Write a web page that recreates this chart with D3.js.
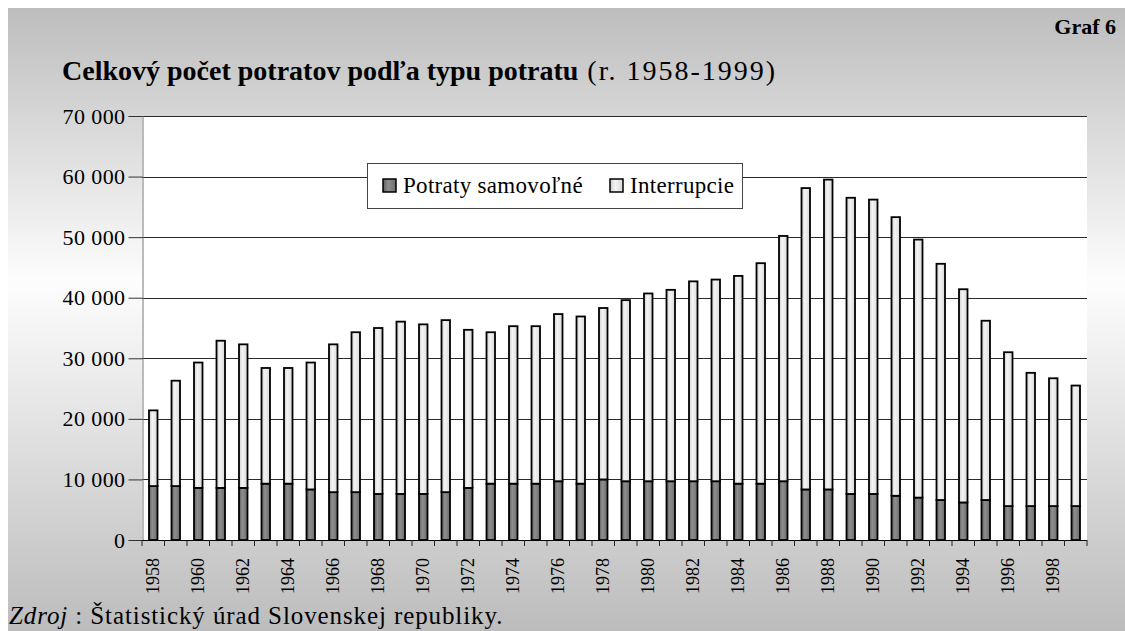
<!DOCTYPE html>
<html>
<head>
<meta charset="utf-8">
<script src="https://cdn.jsdelivr.net/npm/d3@7"></script>
<style>
  html, body { margin: 0; padding: 0; background: #ffffff; }
  svg { display: block; }
  svg text { font-family: 'Liberation Serif', 'Times New Roman', serif; }
</style>
</head>
<body>
<div class="chart"></div>
<script>
// categories
const years = [1958, 1959, 1960, 1961, 1962, 1963, 1964, 1965, 1966, 1967,
  1968, 1969, 1970, 1971, 1972, 1973, 1974, 1975, 1976, 1977,
  1978, 1979, 1980, 1981, 1982, 1983, 1984, 1985, 1986, 1987,
  1988, 1989, 1990, 1991, 1992, 1993, 1994, 1995, 1996, 1997,
  1998, 1999];

// Potraty samovoľné
const samovolne = [8900, 8900, 8600, 8600, 8600, 9300, 9300, 8350, 7900, 7900,
  7600, 7600, 7600, 7900, 8600, 9300, 9300, 9300, 9700, 9300,
  10000, 9700, 9700, 9700, 9700, 9700, 9300, 9300, 9700, 8350,
  8350, 7600, 7600, 7300, 7000, 6600, 6200, 6600, 5600, 5600,
  5600, 5600];

// Interrupcie
const interrupcie = [12500, 17400, 20700, 24300, 23700, 19100, 19100, 20950, 24400, 26400,
  27400, 28450, 28000, 28400, 26100, 25000, 26000, 26000, 27600, 27600,
  28300, 29900, 31000, 31600, 33000, 33300, 34300, 36400, 40500, 49750,
  51150, 48900, 48600, 46000, 42600, 39000, 35200, 29600, 25400, 22000,
  21100, 19900];

const yTicks = [0, 10000, 20000, 30000, 40000, 50000, 60000, 70000];
const yearLabels = [1958, 1960, 1962, 1964, 1966, 1968, 1970, 1972, 1974, 1976,
  1978, 1980, 1982, 1984, 1986, 1988, 1990, 1992, 1994, 1996, 1998];
const seriesNames = ['Potraty samovoľné', 'Interrupcie'];

const WIDTH = 1125, HEIGHT = 631;
const MARGINS = {top: 116, right: 38, bottom: 91, left: 142};
const FONT = "'Liberation Serif', 'Times New Roman', serif";

const svg = d3.select('.chart')
  .append('svg')
  .attr('width', WIDTH)
  .attr('height', HEIGHT);

const defs = svg.append('defs');

// background gradient, dark on top and bottom, light in the middle
let bg = defs.append('linearGradient')
  .attr('id', 'bg')
  .attr('x1', 0).attr('y1', 0).attr('x2', 0).attr('y2', 1);
bg.append('stop').attr('offset', '0%').attr('stop-color', '#bdbdbd');
bg.append('stop').attr('offset', '44%').attr('stop-color', '#fdfdfd');
bg.append('stop').attr('offset', '100%').attr('stop-color', '#bcbcbc');

function barGradient(id, c1, c2, c3) {
  let g = defs.append('linearGradient')
    .attr('id', id)
    .attr('x1', 0).attr('y1', 0).attr('x2', 1).attr('y2', 0);
  g.append('stop').attr('offset', '0%').attr('stop-color', c1);
  g.append('stop').attr('offset', '40%').attr('stop-color', c2);
  g.append('stop').attr('offset', '100%').attr('stop-color', c3);
}
barGradient('dark', '#5e5e5e', '#8e8e8e', '#6c6c6c');
barGradient('light', '#cdcdcd', '#f4f4f4', '#d9d9d9');
const fills = ['url(#dark)', 'url(#light)'];

svg.append('rect')
  .attr('x', 8)
  .attr('y', 8)
  .attr('width', WIDTH - 8)
  .attr('height', HEIGHT - 8)
  .attr('fill', 'url(#bg)');

/**
 * scales
 */
const xRange = d3.scaleBand()
  .domain(years)
  .range([MARGINS.left, WIDTH - MARGINS.right])
  .padding(0);
const yRange = d3.scaleLinear()
  .domain([0, 70000])
  .range([HEIGHT - MARGINS.bottom, MARGINS.top]);

const x0 = MARGINS.left, x1 = WIDTH - MARGINS.right;
const y0 = yRange(0);

// plot area
svg.append('rect')
  .attr('x', x0)
  .attr('y', yRange(70000))
  .attr('width', x1 - x0)
  .attr('height', y0 - yRange(70000))
  .attr('fill', '#ffffff');

// gridlines
svg.selectAll('.grid')
  .data(yTicks.filter(function (d) { return d > 0; }))
  .enter()
  .append('line')
  .attr('x1', x0)
  .attr('x2', x1)
  .attr('y1', function (d) { return Math.round(yRange(d)) + 0.5; })
  .attr('y2', function (d) { return Math.round(yRange(d)) + 0.5; })
  .attr('stroke', '#2a2a2a')
  .attr('stroke-width', 1);

/**
 * yAxis
 */
const fmt = d3.formatLocale({decimal: ',', thousands: ' ', grouping: [3], currency: ['', '']}).format(',d');
const yAxis = d3.axisLeft(yRange)
  .tickValues(yTicks)
  .tickFormat(fmt)
  .tickSize(14)
  .tickPadding(3);
const yAxisg = svg.append('g')
  .attr('transform', 'translate(' + (x0 + 0.5) + ',0)')
  .attr('font-family', FONT)
  .call(yAxis);
yAxisg.attr('font-family', FONT).attr('font-size', 22);
yAxisg.select('.domain').attr('stroke', '#777777');
yAxisg.selectAll('.tick line').attr('stroke', '#333333');
yAxisg.selectAll('.tick text')
  .style('font-family', FONT)
  .style('font-size', '22px')
  .style('letter-spacing', '0.4px')
  .attr('fill', '#000');

// stacked bars
const rows = years.map(function (y, i) {
  return {year: y, s: samovolne[i], n: interrupcie[i]};
});
const stacked = d3.stack().keys(['s', 'n'])(rows);
const bw = 8.5;

stacked.forEach(function (layer, k) {
  svg.append('g')
    .selectAll('rect')
    .data(layer)
    .enter()
    .append('rect')
    .attr('x', function (d) { return xRange(d.data.year) + xRange.bandwidth() / 2 - bw / 2; })
    .attr('y', function (d) { return yRange(d[1]); })
    .attr('width', bw)
    .attr('height', function (d) { return yRange(d[0]) - yRange(d[1]); })
    .attr('fill', fills[k])
    .attr('stroke', '#000')
    .attr('stroke-width', 1.8);
});

/**
 * xAxis - ticks on category boundaries
 */
const boundaries = years.map(function (y) { return xRange(y); }).concat([x1]);
svg.append('line')
  .attr('x1', x0)
  .attr('x2', x1)
  .attr('y1', y0 + 0.5)
  .attr('y2', y0 + 0.5)
  .attr('stroke', '#000')
  .attr('stroke-width', 1.2);
svg.selectAll('.xtick')
  .data(boundaries)
  .enter()
  .append('line')
  .attr('x1', function (d) { return d; })
  .attr('x2', function (d) { return d; })
  .attr('y1', y0)
  .attr('y2', y0 + 6)
  .attr('stroke', '#222')
  .attr('stroke-width', 1);
svg.selectAll('.xlabel')
  .data(yearLabels)
  .enter()
  .append('text')
  .text(function (d) { return d; })
  .attr('transform', function (d) {
    return 'translate(' + (xRange(d) + xRange.bandwidth() / 2 + 6) + ',' + (y0 + 18) + ') rotate(-90)';
  })
  .attr('text-anchor', 'end')
  .style('font-family', FONT)
  .style('font-size', '18px')
  .attr('fill', '#000');

/**
 * legend
 */
const legend = svg.append('g').attr('transform', 'translate(367,163)');
legend.append('rect')
  .attr('x', 0.5)
  .attr('y', 0.5)
  .attr('width', 375)
  .attr('height', 45)
  .attr('fill', '#ffffff')
  .attr('stroke', '#444')
  .attr('stroke-width', 1);
const legendX = [16, 243];
seriesNames.forEach(function (name, k) {
  legend.append('rect')
    .attr('x', legendX[k])
    .attr('y', 16)
    .attr('width', 13)
    .attr('height', 13)
    .attr('fill', fills[k])
    .attr('stroke', '#000')
    .attr('stroke-width', 1.5);
  legend.append('text')
    .text(name)
    .attr('x', legendX[k] + 20)
    .attr('y', 30)
    .style('font-family', FONT)
    .style('font-size', '23px')
    .style('letter-spacing', '0.3px')
    .attr('fill', '#000');
});

/**
 * titles
 */
const title = svg.append('text')
  .attr('x', 62)
  .attr('y', 80)
  .style('font-family', FONT)
  .style('font-size', '28px')
  .attr('fill', '#000');
title.append('tspan')
  .text('Celkový počet potratov podľa typu potratu')
  .style('font-weight', 'bold');
title.append('tspan')
  .text(' (r. 1958-1999)')
  .style('letter-spacing', '2px');

svg.append('text')
  .text('Graf 6')
  .attr('x', 1116)
  .attr('y', 34)
  .attr('text-anchor', 'end')
  .style('font-family', FONT)
  .style('font-size', '22px')
  .style('font-weight', 'bold')
  .attr('fill', '#000');

const src = svg.append('text')
  .attr('x', 9)
  .attr('y', 624)
  .style('font-family', FONT)
  .style('font-size', '25px')
  .style('letter-spacing', '0.9px')
  .attr('fill', '#000');
src.append('tspan').text('Zdroj').style('font-style', 'italic');
src.append('tspan').text(' : Štatistický úrad Slovenskej republiky.');
</script>
</body>
</html>
